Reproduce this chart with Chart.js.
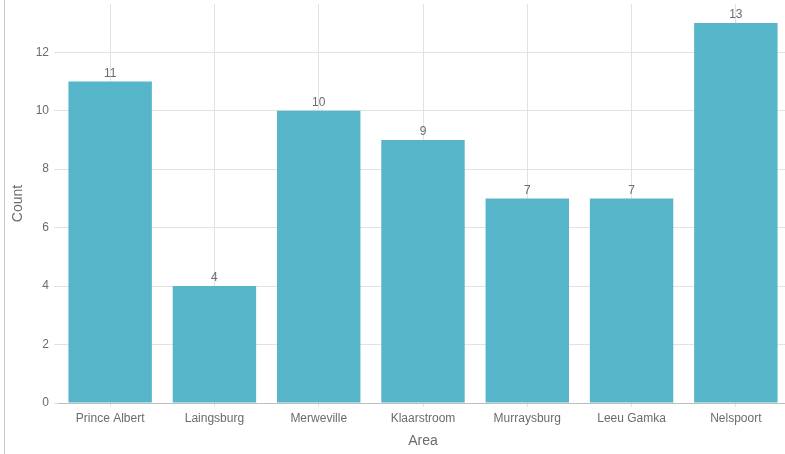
<!DOCTYPE html>
<html><head><meta charset="utf-8">
<script src="https://cdn.jsdelivr.net/npm/chart.js@4/dist/chart.umd.min.js"></script>
<style>
html,body{margin:0;padding:0;background:#fff;overflow:hidden;width:785px;height:454px;}
#wrap{position:absolute;left:0;top:0;width:790px;height:454px;}
#edge{position:absolute;left:4px;top:0;width:1px;height:454px;background:#c8c8c8;}
</style></head>
<body>
<div id="wrap"><canvas id="c"></canvas></div>
<div id="edge"></div>
<script>
const categories = ["Prince Albert","Laingsburg","Merweville","Klaarstroom","Murraysburg","Leeu Gamka","Nelspoort"];
const counts = [11,4,10,9,7,7,13];
const yTicks = [0,2,4,6,8,10,12];

const FONT = '"Liberation Sans", Arial, sans-serif';
const labelPlugin = {
  id:'vals',
  afterDatasetsDraw(chart){
    const ctx = chart.ctx;
    const meta = chart.getDatasetMeta(0);
    ctx.save();
    ctx.fillStyle = '#6b6b6b';
    ctx.font = '12px ' + FONT;
    ctx.textAlign = 'center';
    ctx.textBaseline = 'bottom';
    meta.data.forEach((bar,i)=>{
      ctx.fillText(String(counts[i]), bar.x, bar.y - 2);
    });
    ctx.restore();
  }
};

new Chart(document.getElementById('c'), {
  type:'bar',
  data:{labels:categories, datasets:[{data:counts, backgroundColor:'#57b5c9', borderWidth:0, categoryPercentage:0.8, barPercentage:1.0}]},
  options:{
    responsive:true, maintainAspectRatio:false, animation:false,
    layout:{padding:{top:4,right:2,left:0,bottom:0}},
    plugins:{legend:{display:false}, tooltip:{enabled:false}},
    scales:{
      x:{
        offset:true,
        grid:{offset:false, color:'#e2e2e2', tickLength:4, drawTicks:true},
        border:{color:'#bdbdbd', width:1},
        ticks:{color:'#6b6b6b', font:{family:FONT, size:12}, padding:4},
        title:{display:true, text:'Area', color:'#6b6b6b', font:{family:FONT, size:14}, padding:{top:8}},
        afterFit(s){ s.height = 51; s.paddingLeft = 0; s.paddingRight = 0; }
      },
      y:{
        min:0, max:13.65,
        afterBuildTicks(s){ s.ticks = yTicks.map(v=>({value:v})); },
        grid:{color:'#e2e2e2', tickLength:4},
        border:{display:false},
        ticks:{color:'#6b6b6b', font:{family:FONT, size:12}, padding:5},
        title:{display:true, text:'Count', color:'#6b6b6b', font:{family:FONT, size:14}, padding:{top:10, bottom:4}},
        afterFit(s){ s.width = 58; s.paddingTop = 0; s.paddingBottom = 0; }
      }
    }
  },
  plugins:[labelPlugin]
});
</script>
</body></html>
